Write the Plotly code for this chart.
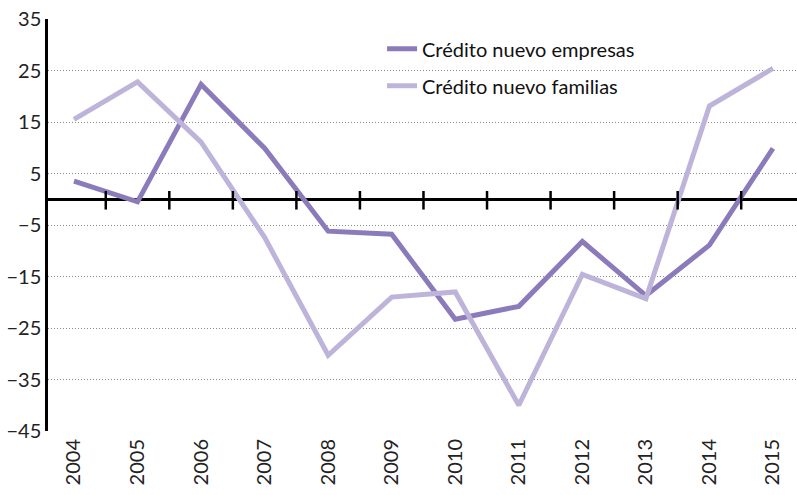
import plotly.graph_objects as go

years = ["2004", "2005", "2006", "2007", "2008", "2009",
         "2010", "2011", "2012", "2013", "2014", "2015"]
empresas = [3.5, -0.5, 22.3, 9.9, -6.2, -6.8, -23.3, -20.8, -8.2, -18.7, -8.9, 9.9]
familias = [15.5, 22.8, 11.1, -7.4, -30.3, -19.0, -18.0, -40.0, -14.6, -19.3, 18.1, 25.4]
y_ticks = [35, 25, 15, 5, -5, -15, -25, -35, -45]

FONT = "Lato"
DARK = "#8C7BBB"
LIGHT = "#BEB4DA"

x_idx = list(range(len(years)))

fig = go.Figure()
fig.add_trace(go.Scatter(
    x=x_idx, y=empresas, mode="lines", name="Crédito nuevo empresas",
    line=dict(color=DARK, width=5), legendgroup="a",
))
fig.add_trace(go.Scatter(
    x=x_idx, y=familias, mode="lines", name="Crédito nuevo familias",
    line=dict(color=LIGHT, width=5), legendgroup="b",
))

# small category separators crossing the zero line
for i in range(len(years) - 1):
    fig.add_shape(type="line", xref="x", yref="y",
                  x0=i + 0.5, x1=i + 0.5, y0=-2.0, y1=1.6,
                  line=dict(color="black", width=2.5), layer="above")

fig.update_layout(
    width=797, height=495,
    margin=dict(l=48, r=0, t=19, b=64),
    paper_bgcolor="white", plot_bgcolor="white",
    font=dict(family=FONT, size=20, color="#222222"),
    showlegend=True,
    legend=dict(
        x=0.446, y=0.975, xanchor="left", yanchor="top",
        bgcolor="rgba(0,0,0,0)", font=dict(size=20, color="#111111"),
        traceorder="grouped", tracegroupgap=8,
    ),
    xaxis=dict(
        range=[-0.409, 11.378],
        tickvals=x_idx, ticktext=years, tickangle=-90,
        showgrid=False, zeroline=False, showline=False, ticks="",
        ticklabelstandoff=3,
        tickfont=dict(size=20, color="#222222"),
    ),
    yaxis=dict(
        range=[-45, 35], tickvals=y_ticks,
        showgrid=True, gridcolor="#8a8a8a", griddash="1px,2px", gridwidth=1,
        zeroline=True, zerolinecolor="black", zerolinewidth=2.5,
        showline=True, linecolor="black", linewidth=2.5,
        ticks="", tickfont=dict(size=20, color="#222222"),
    ),
)

fig.write_html("out.html")
